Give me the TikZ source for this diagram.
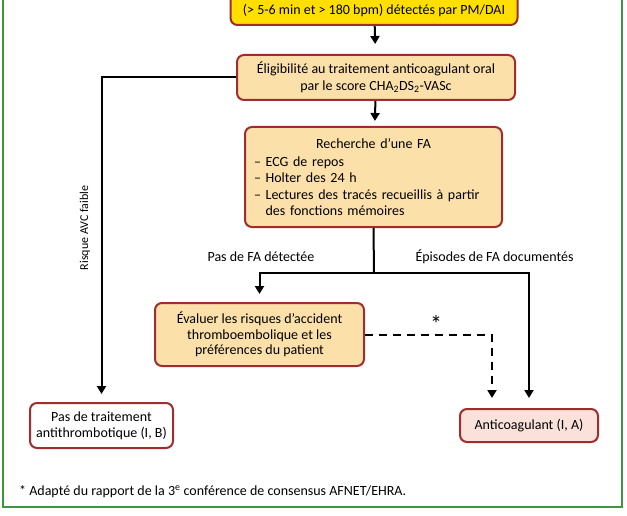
\documentclass[tikz,border=0pt]{standalone}
\usepackage{fontspec}
\setmainfont{Carlito}
\usetikzlibrary{arrows.meta}

\definecolor{amarillo}{RGB}{255,222,0}
\definecolor{crema}{RGB}{252,224,170}
\definecolor{rosa}{RGB}{250,226,218}
\definecolor{borde}{RGB}{160,44,44}
\definecolor{verde}{RGB}{62,150,62}

\begin{document}
\begin{tikzpicture}[x=1pt,y=-1pt,
    caja/.style={draw=borde, line width=2pt, rounded corners=7pt, fill=crema,
        align=center, inner sep=0pt, font=\fontsize{14}{16.5}\selectfont},
    flecha/.style={line width=2pt, -{Triangle[length=8pt,width=9pt]}},
    rotulo/.style={font=\fontsize{14}{16}\selectfont}]

    \useasboundingbox (0,0) rectangle (627,516);

    % marco verde
    \draw[verde, line width=2.2pt] (3,-20) rectangle (622,507);

    % cajas
    \node[caja, fill=amarillo, anchor=south, minimum width=287,
        text height=40pt, text depth=4pt, inner ysep=6pt] (deteccion) at (374,26)
        {(> 5-6 min et > 180 bpm) détectés par PM/DAI};
    \node[caja, minimum width=278, minimum height=45] (eligibilidad) at (376,77.5)
        {Éligibilité au traitement anticoagulant oral\\
         par le score CHA\textsubscript{2}DS\textsubscript{2}-VASc};
    \node[caja, minimum width=257, minimum height=100, text width=239,
        align=left] (busqueda) at (373.5,177)
        {\makebox[\linewidth]{Recherche d'une FA}\\[1.5pt]
         – ECG de repos\\
         – Holter des 24 h\\
         – Lectures des tracés recueillis à partir\\
         \phantom{– }des fonctions mémoires};
    \node[caja, minimum width=209, minimum height=63,
        font=\fontsize{14}{15.5}\selectfont] (evaluar) at (259.5,334.5)
        {Évaluer les risques d'accident\\
         thromboembolique et les\\
         préférences du patient};
    \node[caja, fill=white, minimum width=143, minimum height=45,
        font=\fontsize{14}{16}\selectfont] (sintrat) at (101.5,425.5)
        {Pas de traitement\\antithrombotique (I, B)};
    \node[caja, fill=rosa, minimum width=138, minimum height=33] (anticoag) at (529,425.5)
        {Anticoagulant (I, A)};

    % conectores
    \coordinate (rama) at (374,273);
    \draw[flecha, shorten >=10pt] (deteccion) -- (eligibilidad);
    \draw[flecha, shorten >=5pt] (eligibilidad) -- (busqueda);
    \draw[line width=2pt] (busqueda.south) -- (rama);
    \draw[flecha, shorten >=8pt] (rama) -| (evaluar.north);
    \draw[flecha, shorten >=10pt] (rama) -| (anticoag.north);
    \draw[flecha, shorten >=8pt] (eligibilidad.west) -| (sintrat.north);
    \draw[flecha, dash pattern=on 8pt off 6pt, shorten >=10pt]
        (evaluar.east) -| ([xshift=-37pt]anticoag.north);

    % etiquetas
    \node[rotulo] (nofa) at (261,257) {Pas de FA détectée};
    \node[rotulo, anchor=west] (episodios) at (412,257) {Épisodes de FA documentés};
    \node[font=\fontsize{24}{24}\selectfont] (asterisco) at (436,324) {*};
    \node[rotulo, rotate=90, font=\fontsize{12}{13}\selectfont] (riesgo) at (85,228)
        {Risque AVC faible};

    % nota
    \node[anchor=west, font=\fontsize{14}{15}\selectfont, inner sep=0pt] (nota) at (19,492)
        {* Adapté du rapport de la 3\textsuperscript{e} conférence de consensus AFNET/EHRA.};

\end{tikzpicture}
\end{document}
